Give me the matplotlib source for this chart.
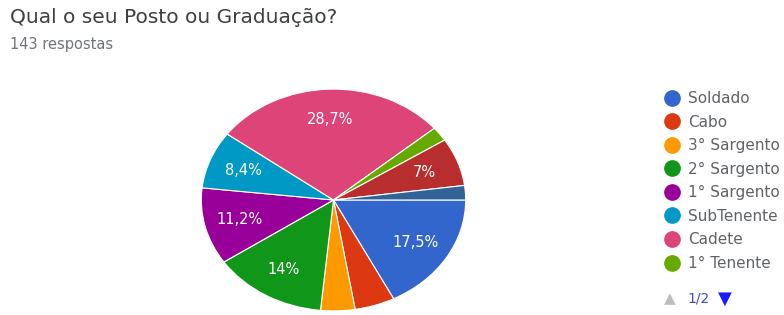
import matplotlib.pyplot as plt
from matplotlib.lines import Line2D

# respostas por posto (143 no total); os dois ultimos estao na pagina 2 da legenda
categorias = ['Soldado', 'Cabo', '3° Sargento', '2° Sargento', '1° Sargento',
              'SubTenente', 'Cadete', '1° Tenente', '2° Tenente', 'Capitão']
respostas = [25, 7, 6, 20, 16, 12, 41, 3, 10, 3]
cores = ['#3366cc', '#dc3912', '#ff9900', '#109618', '#990099',
         '#0099c6', '#dd4477', '#66aa00', '#b82e2e', '#316395']
legenda_pagina = 8

total = sum(respostas)


def rotulo(pct):
    if pct < 5:
        return ''
    s = f'{pct:.1f}'
    if s.endswith('.0'):
        s = s[:-2]
    return s.replace('.', ',') + '%'


fig = plt.figure(figsize=(7.84, 3.15), dpi=100)
W, H = 784, 315

fig.text(10 / W, 1 - 23 / H, 'Qual o seu Posto ou Graduação?', fontsize=14.5,
         color='#3c4043', family='DejaVu Sans', va='baseline')
fig.text(10 / W, 1 - 49 / H, f'{total} respostas', fontsize=10.5,
         color='#70757a', family='DejaVu Sans', va='baseline')

ax = fig.add_axes([200 / W, 3 / H, 267 / W, 224 / H])
wedges, texts, autotexts = ax.pie(
    respostas, colors=cores, startangle=0, counterclock=False,
    autopct=rotulo, pctdistance=0.73,
    wedgeprops=dict(edgecolor='white', linewidth=0.8),
    textprops=dict(color='white', fontsize=10.5, family='DejaVu Sans'))
ax.set_aspect('auto')
ax.set_xlim(-1.01, 1.01)
ax.set_ylim(-1.01, 1.01)

handles = [Line2D([], [], marker='o', ls='', color=c, markersize=11)
           for c in cores[:legenda_pagina]]
fig.legend(handles, categorias[:legenda_pagina], loc='upper left',
           bbox_to_anchor=(664 / W, 1 - 91 / H), frameon=False,
           prop=dict(family='DejaVu Sans', size=11), labelcolor='#5f6368',
           handletextpad=0.55, handlelength=1.0, labelspacing=0.56,
           borderpad=0, borderaxespad=0)

fig.text(670 / W, 1 - 299 / H, '▲', fontsize=11, color='#bdbdbd',
         va='center', ha='center')
fig.text(687 / W, 1 - 299 / H, '1/2', fontsize=10, color='#3f51b5',
         family='DejaVu Sans', va='center')
fig.text(725 / W, 1 - 299 / H, '▼', fontsize=13, color='#1a1aff',
         va='center', ha='center')

fig.savefig('out.png', dpi=100)
